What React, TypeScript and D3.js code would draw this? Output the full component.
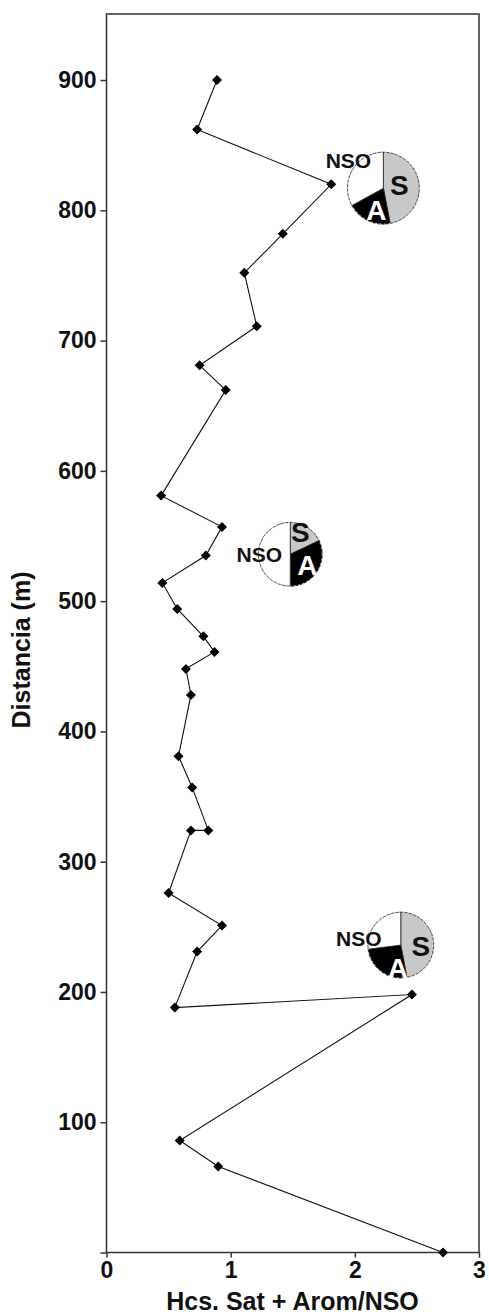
import { useEffect, useRef } from 'react'
import * as d3 from 'd3'

// profile values, top to bottom
const depth = [900, 862, 820, 782, 752, 711, 681, 662, 581, 557, 535, 514, 494, 473, 461, 448, 428, 381, 357, 324, 324, 276, 251, 231, 188, 198, 86, 66, 0]
const ratio = [0.89, 0.73, 1.81, 1.42, 1.11, 1.21, 0.75, 0.96, 0.44, 0.93, 0.80, 0.45, 0.57, 0.78, 0.87, 0.64, 0.68, 0.58, 0.69, 0.82, 0.68, 0.50, 0.93, 0.73, 0.55, 2.46, 0.59, 0.90, 2.71]

const xTicks = [0, 1, 2, 3]
const yTicks = [100, 200, 300, 400, 500, 600, 700, 800, 900]

// pie insets: position (data units) and composition in %
const pieX = [2.23, 1.48, 2.37]
const pieDepth = [817, 536, 236]
const pieSat = [47, 18, 47]
const pieArom = [20, 32, 26]
const pieNso = [33, 50, 27]
const pieLabels = ['S', 'A', 'NSO']

const FONT = '"Liberation Sans", Arial, sans-serif'

const App = () => {
  const ref = useRef<SVGSVGElement>(null)

  useEffect(() => {
    const width = 489
    const height = 1314
    const m = { left: 106.5, right: 10, top: 14, bottom: 61.5 }
    const svg = d3.select(ref.current)
    svg.selectAll('*').remove()
    svg.attr('width', width).attr('height', height)

    const x = d3.scaleLinear().domain([0, 3]).range([m.left, width - m.right])
    const y = d3.scaleLinear().domain([0, 950.7]).range([height - m.bottom, m.top])

    // frame
    svg.append('rect')
      .attr('x', x(0)).attr('y', y(950.7))
      .attr('width', x(3) - x(0)).attr('height', y(0) - y(950.7))
      .attr('fill', 'none').attr('stroke', '#333').attr('stroke-width', 1.5)

    const xAxis = svg.append('g')
      .attr('transform', `translate(0,${y(0)})`)
      .call(d3.axisBottom(x).tickValues(xTicks).tickSize(5).tickPadding(4).tickFormat(d3.format('d')))
    xAxis.select('.domain').remove()

    const yAxis = svg.append('g')
      .attr('transform', `translate(${x(0)},0)`)
      .call(d3.axisLeft(y).tickValues([0, ...yTicks]).tickSize(6).tickPadding(4)
        .tickFormat(d => (d === 0 ? '' : d3.format('d')(d as number))))
    yAxis.select('.domain').remove()

    svg.selectAll('.tick line').attr('stroke', '#333').attr('stroke-width', 1.5)
    svg.selectAll('.tick text')
      .attr('fill', '#111')
      .style('font-family', FONT)
      .style('font-weight', 'bold')
      .style('font-size', '23px')

    // axis titles
    svg.append('text')
      .attr('x', 292.5).attr('y', 1310)
      .attr('text-anchor', 'middle')
      .style('font-family', FONT).style('font-weight', 'bold').style('font-size', '25px')
      .attr('fill', '#111')
      .text('Hcs. Sat + Arom/NSO')

    svg.append('text')
      .attr('transform', `translate(30,${650}) rotate(-90)`)
      .attr('text-anchor', 'middle')
      .style('font-family', FONT).style('font-weight', 'bold').style('font-size', '25px')
      .attr('fill', '#111')
      .text('Distancia (m)')

    // profile line
    const pts = depth.map((d, i) => [ratio[i], d] as [number, number])
    svg.append('path')
      .datum(pts)
      .attr('fill', 'none')
      .attr('stroke', '#111')
      .attr('stroke-width', 1.1)
      .attr('d', d3.line<[number, number]>().x(d => x(d[0])).y(d => y(d[1])))

    svg.selectAll('.pt')
      .data(pts)
      .enter()
      .append('path')
      .attr('class', 'pt')
      .attr('d', d3.symbol(d3.symbolSquare, 50)())
      .attr('transform', d => `translate(${x(d[0])},${y(d[1])}) rotate(45)`)
      .attr('fill', '#000')

    // pies
    const radii = [36, 32, 33]
    const labelOff = [
      [[16, -3], [-7, 22], [-35, -28]],
      [[10, -22], [17, 11], [-31, 0]],
      [[20, 1], [-3, 23], [-42, -7]],
    ]
    const fills = ['#c8c8c8', '#000', '#fff']
    const pie = d3.pie<number>().sort(null)

    pieX.forEach((px, i) => {
      const cx = x(px)
      const cy = y(pieDepth[i])
      const g = svg.append('g').attr('transform', `translate(${cx},${cy})`)
      const arcs = pie([pieSat[i], pieArom[i], pieNso[i]])
      const arc = d3.arc<d3.PieArcDatum<number>>().innerRadius(0).outerRadius(radii[i])
      g.selectAll('path.slice')
        .data(arcs)
        .enter()
        .append('path')
        .attr('class', 'slice')
        .attr('d', arc)
        .attr('fill', (_, j) => fills[j])
        .attr('stroke', '#222')
        .attr('stroke-width', 0.8)
      g.append('circle')
        .attr('r', radii[i])
        .attr('fill', 'none')
        .attr('stroke', '#fff')
        .attr('stroke-width', 1)
        .attr('stroke-dasharray', '1.5,3')

      pieLabels.forEach((lab, j) => {
        g.append('text')
          .attr('x', labelOff[i][j][0])
          .attr('y', labelOff[i][j][1])
          .attr('text-anchor', 'middle')
          .attr('dominant-baseline', 'central')
          .style('font-family', FONT)
          .style('font-weight', 'bold')
          .style('font-size', lab === 'NSO' ? '21px' : '28px')
          .attr('fill', lab === 'A' ? '#fff' : '#111')
          .text(lab)
      })
    })
  }, [])

  return (
    <div>
      <svg ref={ref} style={{ position: 'absolute', left: 0, top: 0, display: 'block', background: '#fff' }}></svg>
    </div>
  )
}

export default App
